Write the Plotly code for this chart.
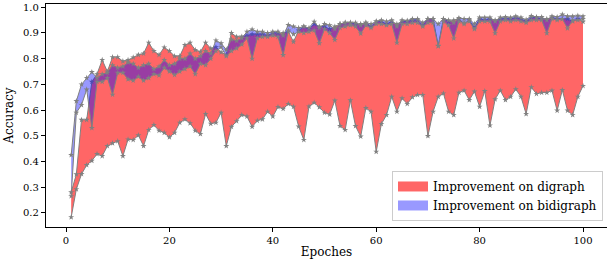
import plotly.graph_objects as go

epochs = list(range(1, 101))

# baseline accuracy on digraph (lower boundary of red band)
digraph_base = [
    0.183, 0.292, 0.351, 0.386, 0.403, 0.429, 0.421, 0.460, 0.471, 0.479,
    0.421, 0.486, 0.484, 0.502, 0.460, 0.523, 0.542, 0.520, 0.512, 0.494,
    0.512, 0.551, 0.564, 0.549, 0.520, 0.507, 0.585, 0.547, 0.551, 0.590,
    0.460, 0.535, 0.557, 0.581, 0.575, 0.535, 0.559, 0.564, 0.594, 0.575,
    0.612, 0.605, 0.624, 0.613, 0.536, 0.484, 0.614, 0.629, 0.611, 0.590,
    0.583, 0.637, 0.538, 0.523, 0.638, 0.538, 0.497, 0.608, 0.594, 0.438,
    0.546, 0.581, 0.652, 0.594, 0.646, 0.624, 0.650, 0.659, 0.659, 0.499,
    0.594, 0.652, 0.665, 0.594, 0.581, 0.668, 0.676, 0.639, 0.672, 0.613,
    0.674, 0.540, 0.642, 0.676, 0.639, 0.652, 0.681, 0.652, 0.585, 0.689,
    0.663, 0.668, 0.668, 0.676, 0.598, 0.678, 0.598, 0.581, 0.652, 0.694,
]

# improved accuracy on digraph (upper boundary of red band)
digraph_improved = [
    0.280, 0.350, 0.562, 0.562, 0.710, 0.740, 0.795, 0.750, 0.806, 0.806,
    0.790, 0.795, 0.805, 0.815, 0.820, 0.862, 0.830, 0.815, 0.844, 0.830,
    0.810, 0.810, 0.853, 0.862, 0.834, 0.827, 0.862, 0.840, 0.845, 0.825,
    0.815, 0.900, 0.885, 0.886, 0.890, 0.895, 0.895, 0.895, 0.890, 0.900,
    0.900, 0.900, 0.905, 0.866, 0.910, 0.925, 0.915, 0.935, 0.925, 0.925,
    0.915, 0.925, 0.935, 0.940, 0.940, 0.935, 0.935, 0.940, 0.925, 0.945,
    0.945, 0.935, 0.945, 0.935, 0.945, 0.945, 0.950, 0.950, 0.930, 0.955,
    0.955, 0.850, 0.955, 0.945, 0.950, 0.955, 0.935, 0.950, 0.920, 0.955,
    0.950, 0.955, 0.950, 0.955, 0.955, 0.955, 0.960, 0.955, 0.945, 0.960,
    0.960, 0.955, 0.955, 0.960, 0.955, 0.955, 0.955, 0.945, 0.955, 0.944,
]

# baseline accuracy on bidigraph (lower boundary of blue band)
bidigraph_base = [
    0.265, 0.590, 0.620, 0.680, 0.530, 0.710, 0.710, 0.725, 0.660, 0.745,
    0.745, 0.720, 0.715, 0.730, 0.715, 0.725, 0.740, 0.735, 0.765, 0.750,
    0.737, 0.750, 0.760, 0.770, 0.740, 0.780, 0.775, 0.800, 0.830, 0.845,
    0.810, 0.830, 0.840, 0.855, 0.880, 0.800, 0.880, 0.885, 0.885, 0.890,
    0.885, 0.814, 0.910, 0.895, 0.905, 0.900, 0.905, 0.910, 0.860, 0.915,
    0.900, 0.873, 0.920, 0.925, 0.930, 0.925, 0.898, 0.930, 0.920, 0.935,
    0.935, 0.930, 0.935, 0.862, 0.935, 0.935, 0.940, 0.940, 0.925, 0.940,
    0.940, 0.849, 0.945, 0.930, 0.879, 0.945, 0.940, 0.945, 0.915, 0.945,
    0.945, 0.945, 0.899, 0.945, 0.950, 0.945, 0.950, 0.945, 0.940, 0.950,
    0.950, 0.950, 0.899, 0.955, 0.950, 0.955, 0.918, 0.950, 0.950, 0.955,
]

# improved accuracy on bidigraph (upper boundary of blue band)
bidigraph_improved = [
    0.425, 0.635, 0.700, 0.725, 0.748, 0.725, 0.740, 0.745, 0.775, 0.765,
    0.770, 0.785, 0.780, 0.765, 0.775, 0.780, 0.760, 0.770, 0.795, 0.775,
    0.780, 0.800, 0.800, 0.820, 0.800, 0.810, 0.830, 0.820, 0.871, 0.860,
    0.835, 0.875, 0.870, 0.880, 0.905, 0.914, 0.905, 0.905, 0.900, 0.905,
    0.905, 0.890, 0.931, 0.925, 0.920, 0.925, 0.920, 0.944, 0.920, 0.935,
    0.930, 0.915, 0.935, 0.940, 0.940, 0.940, 0.930, 0.940, 0.935, 0.945,
    0.950, 0.945, 0.950, 0.925, 0.950, 0.948, 0.955, 0.955, 0.940, 0.955,
    0.955, 0.935, 0.955, 0.950, 0.940, 0.958, 0.955, 0.955, 0.935, 0.960,
    0.960, 0.960, 0.945, 0.960, 0.962, 0.960, 0.965, 0.960, 0.952, 0.966,
    0.962, 0.962, 0.950, 0.965, 0.962, 0.972, 0.965, 0.965, 0.967, 0.965,
]

x_ticks = [0, 20, 40, 60, 80, 100]
y_ticks = [0.2, 0.3, 0.4, 0.5, 0.6, 0.7, 0.8, 0.9, 1.0]
y_tick_text = ["0.2", "0.3", "0.4", "0.5", "0.6", "0.7", "0.8", "0.9", "1.0"]

RED = "rgba(255,0,0,0.6)"
BLUE = "rgba(0,0,255,0.4)"
GRAY = "#808080"
FONT = "DejaVu Serif"

line_style = dict(color=GRAY, width=1.0)
marker_style = dict(symbol="star", size=4.5, color=GRAY)

fig = go.Figure()
fig.add_trace(go.Scatter(x=epochs, y=digraph_base, mode="lines+markers",
                         line=line_style, marker=marker_style, showlegend=False))
fig.add_trace(go.Scatter(x=epochs, y=digraph_improved, mode="lines+markers",
                         line=line_style, marker=marker_style, fill="tonexty",
                         fillcolor=RED, showlegend=False))
fig.add_trace(go.Scatter(x=epochs, y=bidigraph_base, mode="lines+markers",
                         line=line_style, marker=marker_style, showlegend=False))
fig.add_trace(go.Scatter(x=epochs, y=bidigraph_improved, mode="lines+markers",
                         line=line_style, marker=marker_style, fill="tonexty",
                         fillcolor=BLUE, showlegend=False))

# legend entries (thick line swatches give patch-like rectangles)
fig.add_trace(go.Scatter(x=[None], y=[None], mode="lines",
                         line=dict(color=RED, width=10),
                         name="Improvement on digraph"))
fig.add_trace(go.Scatter(x=[None], y=[None], mode="lines",
                         line=dict(color=BLUE, width=10),
                         name="Improvement on bidigraph"))

fig.update_layout(
    width=607, height=265,
    margin=dict(l=46, r=0, t=4, b=38),
    paper_bgcolor="white", plot_bgcolor="white",
    font=dict(family=FONT, size=12, color="black"),
    legend=dict(x=0.9929, y=0.027, xanchor="right", yanchor="bottom",
                traceorder="normal",
                bgcolor="white", bordercolor="#cccccc", borderwidth=1,
                font=dict(family=FONT, size=12), tracegroupgap=0,
                itemwidth=30),
    xaxis=dict(range=[-3.87, 104.64], tickvals=x_ticks, ticks="outside",
               ticklen=4, tickwidth=1, tickcolor="black",
               showline=True, linecolor="black", linewidth=1.3, mirror=True,
               showgrid=False, zeroline=False, automargin=False,
               tickfont=dict(family=FONT, size=10),
               title=dict(text="Epoches", font=dict(family=FONT, size=12), standoff=2)),
    yaxis=dict(range=[0.145, 1.0128], tickvals=y_ticks, ticktext=y_tick_text,
               ticks="outside", ticklen=4, tickwidth=1, tickcolor="black",
               showline=True, linecolor="black", linewidth=1.3,
               showgrid=False, zeroline=False, automargin=False,
               tickfont=dict(family=FONT, size=10),
               title=dict(text="Accuracy", font=dict(family=FONT, size=12), standoff=6)),
)

fig.write_html("out.html", config={"displayModeBar": False},
               post_script="document.body.style.margin='0';document.body.style.overflow='hidden';")
